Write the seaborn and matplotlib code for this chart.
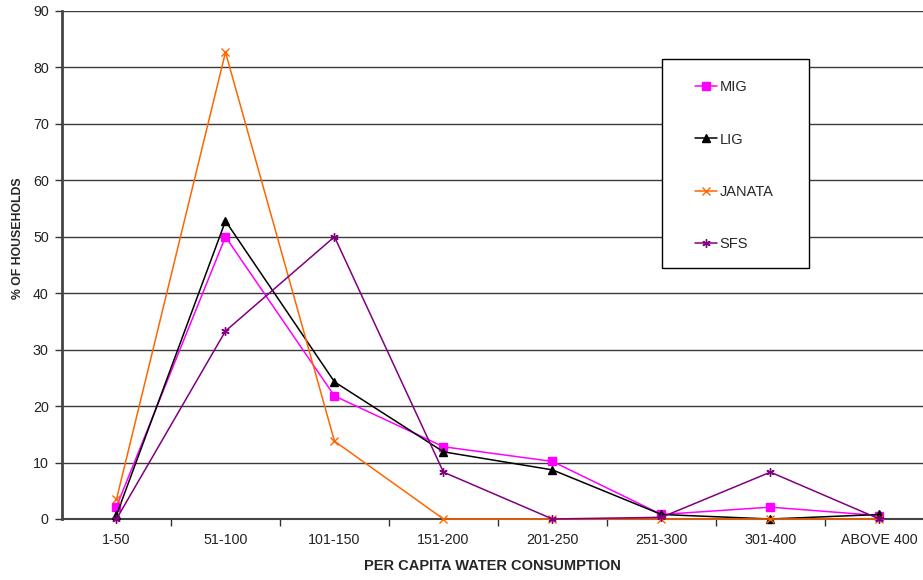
import matplotlib
matplotlib.use("Agg")
import matplotlib.pyplot as plt
from matplotlib.patches import Rectangle
from matplotlib.lines import Line2D
import seaborn as sns
import pandas as pd

categories = ["1-50", "51-100", "101-150", "151-200", "201-250",
              "251-300", "301-400", "ABOVE 400"]
mig = [2.2, 50.0, 21.8, 12.8, 10.2, 0.8, 2.1, 0.6]
lig = [0.7, 52.8, 24.3, 11.9, 8.7, 0.8, 0.0, 0.8]
janata = [3.5, 82.7, 13.8, 0.0, 0.0, 0.0, 0.0, 0.0]
sfs = [0.0, 33.3, 50.0, 8.3, 0.0, 0.3, 8.3, 0.0]

series_names = ["MIG", "LIG", "JANATA", "SFS"]
series_values = [mig, lig, janata, sfs]
colors = {"MIG": "#FF00FF", "LIG": "#000000", "JANATA": "#FF6600", "SFS": "#800080"}
markers = {"MIG": "s", "LIG": "^", "JANATA": "x", "SFS": (6, 2, 0)}
msizes = {"MIG": 5.5, "LIG": 6, "JANATA": 5.5, "SFS": 6}

sns.set_theme(style="white")
plt.rcParams["font.family"] = ["Liberation Sans", "DejaVu Sans"]

df = pd.DataFrame({"category": categories})
for name, vals in zip(series_names, series_values):
    df[name] = vals
df["pos"] = range(len(categories))

fig = plt.figure(figsize=(9.23, 5.8), dpi=100)
ax = fig.add_axes([62 / 923, 61 / 580, 861 / 923, 508 / 580])

# horizontal grid
for yv in range(10, 100, 10):
    ax.axhline(yv, color="#3a3a3a", lw=1.0, zorder=0)

for name, vals in zip(series_names, series_values):
    sns.lineplot(data=df, x="pos", y=name, ax=ax, color=colors[name],
                 marker=markers[name], markersize=msizes[name],
                 markeredgecolor=colors[name], markerfacecolor=colors[name],
                 markeredgewidth=1.0, lw=1.1, zorder=3, legend=False,
                 clip_on=False)

ax.set_xlim(-0.5, 7.4)
ax.set_ylim(0, 90)
ax.set_yticks(range(0, 91, 10))
ax.set_xticks(range(len(categories)))
ax.set_xticklabels(categories)
ax.set_xticks([i + 0.5 for i in range(7)], minor=True)
ax.tick_params(axis="x", which="major", length=0, pad=10, labelsize=10.3,
               colors="#222222")
ax.tick_params(axis="x", which="minor", length=5, width=1, color="#333333",
               bottom=True)
ax.tick_params(axis="y", length=5, width=1, color="#333333", left=True,
               labelsize=10.3, pad=4.5, labelcolor="#222222")

for side in ["top", "right"]:
    ax.spines[side].set_visible(False)
ax.spines["left"].set_color("#444444")
ax.spines["left"].set_linewidth(2)
ax.spines["bottom"].set_color("#444444")
ax.spines["bottom"].set_linewidth(1.5)

ax.set_xlabel("PER CAPITA WATER CONSUMPTION", fontsize=10.5, fontweight="bold",
              labelpad=9)
ax.set_ylabel("% OF HOUSEHOLDS", fontsize=8.8, fontweight="bold",
              va="center")
ax.yaxis.set_label_coords(-44 / 861, (519 - 238) / 508)

# legend box
fig.patches.append(Rectangle((662 / 923, 1 - 268 / 580), 147 / 923, 209 / 580,
                             transform=fig.transFigure, facecolor="white",
                             edgecolor="black", lw=1.0, zorder=5))
handles = [Line2D([], [], color=colors[n], marker=markers[n],
                  markersize=msizes[n], markerfacecolor=colors[n],
                  markeredgecolor=colors[n], lw=1.1) for n in series_names]
leg = fig.legend(handles, series_names, loc="upper left",
                 bbox_to_anchor=(688 / 923, 1 - 73 / 580),
                 frameon=False, fontsize=10.5, handlelength=1.5,
                 handletextpad=0.15, labelspacing=2.62, borderpad=0)
leg.set_zorder(6)

fig.savefig("out.png", dpi=100)
